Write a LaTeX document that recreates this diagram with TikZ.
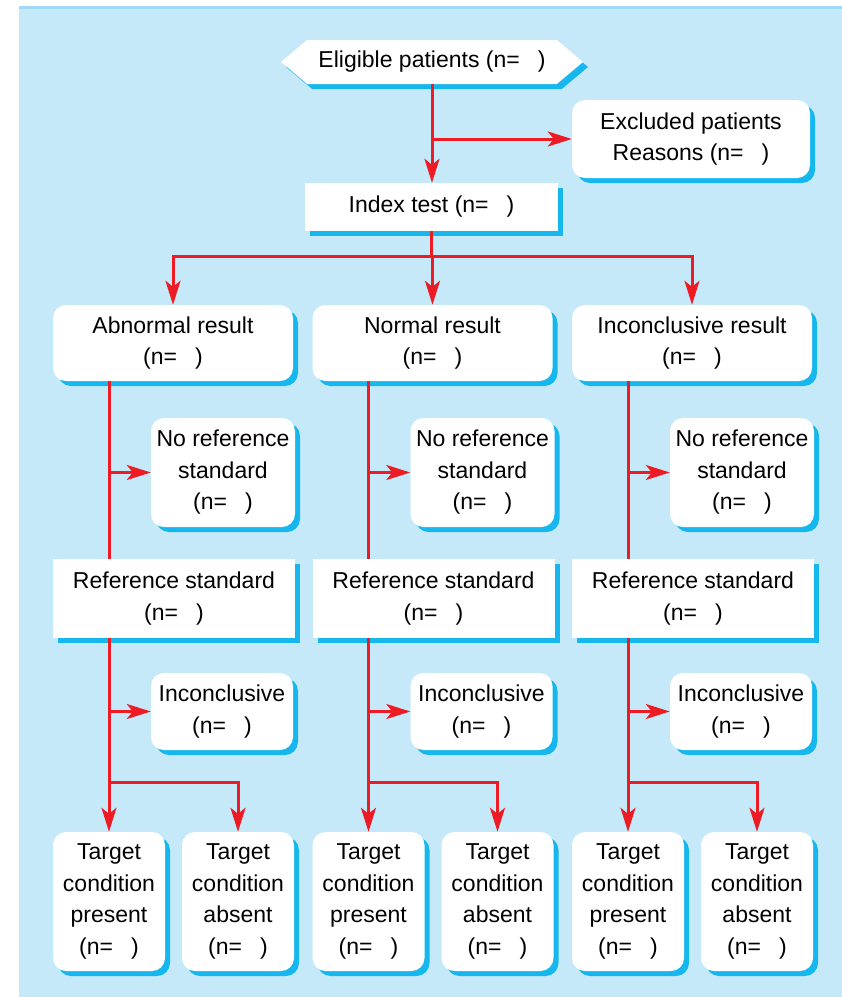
\documentclass[tikz,border=0pt]{standalone}
\usepackage{fontspec}
\setmainfont{Liberation Sans}
\usetikzlibrary{arrows.meta,shapes.symbols,shadows,calc}

\definecolor{bgblue}{RGB}{198,233,249}
\definecolor{edgeblue}{RGB}{160,216,245}
\definecolor{shadowblue}{RGB}{22,182,238}
\definecolor{linered}{RGB}{237,28,36}

\begin{document}
\begin{tikzpicture}[x=1pt,y=-1pt]

\def \gap {259.5}
\def \ncount {(n=\hspace{18pt})}

\tikzset{box/.style = {fill=white, align=center, inner sep=0pt, font=\fontsize{23}{31.5}\selectfont, drop shadow={shadow xshift=5pt, shadow yshift=-5pt, fill=shadowblue, opacity=1}}}
\tikzset{rbox/.style = {box, rounded corners=13pt}}
\tikzset{line/.style = {draw=linered, line width=3pt}}
\tikzset{arr/.style = {line, -{Stealth[length=24pt, width=15pt, inset=6pt]}}}

% background
\fill[white] (0,0) rectangle (842,997);
\fill[bgblue] (19,7) rectangle (842,997);
\fill[edgeblue] (19,6) rectangle (842,9);

% top part
\node[box, signal, signal to=west and east, signal pointer angle=80, minimum width=302pt, minimum height=44pt] (elig) at (432,62) {Eligible patients \ncount};
\node[rbox, minimum width=238pt, minimum height=78pt] (excl) at (691,139) {Excluded patients\\Reasons \ncount};
\node[box, minimum width=253pt, minimum height=48pt] (index) at (431.5,207) {Index test \ncount};

\draw[arr] (elig.south) -- (elig.south |- index.north);
\draw[arr] (elig.south |- excl.west) -- (excl.west);

\coordinate (fork) at ($(index.south)+(0,25)$);
\draw[line] (index.south) -- (fork);

% three columns
\foreach \i/\name in {1/Abnormal, 2/Normal, 3/Inconclusive}
{
	\pgfmathsetmacro{\dx}{(\i - 1) * \gap}
	\node[rbox, minimum width=240pt, minimum height=76pt] (res\i) at ({173 + \dx}, 343) {\name{} result\\\ncount};
	\node[rbox, minimum width=144pt, minimum height=109pt] (noref\i) at ({223 + \dx}, 472.5) {No reference\\standard\\\ncount};
	\node[box, minimum width=242pt, minimum height=79pt] (ref\i) at ({174 + \dx}, 598.5) {Reference standard\\\ncount};
	\node[rbox, minimum width=142pt, minimum height=77pt] (inc\i) at ({222 + \dx}, 711.5) {Inconclusive\\\ncount};
	\node[rbox, minimum width=112pt, minimum height=139pt] (tp\i) at ({109 + \dx}, 901.5) {Target\\condition\\present\\\ncount};
	\node[rbox, minimum width=112pt, minimum height=139pt] (ta\i) at ({238 + \dx}, 901.5) {Target\\condition\\absent\\\ncount};

	\draw[arr] (fork) -| (res\i.north);
	\draw[line] (res\i.south -| tp\i) -- (ref\i.north -| tp\i);
	\draw[arr] (noref\i.west -| tp\i) -- (noref\i.west);
	\coordinate (sp\i) at ($(tp\i.north)+(0,-49)$);
	\draw[line] (ref\i.south -| tp\i) -- (sp\i);
	\draw[arr] (inc\i.west -| tp\i) -- (inc\i.west);
	\draw[arr] (sp\i) -- (tp\i.north);
	\draw[arr] (sp\i) -| (ta\i.north);
}

\end{tikzpicture}
\end{document}
